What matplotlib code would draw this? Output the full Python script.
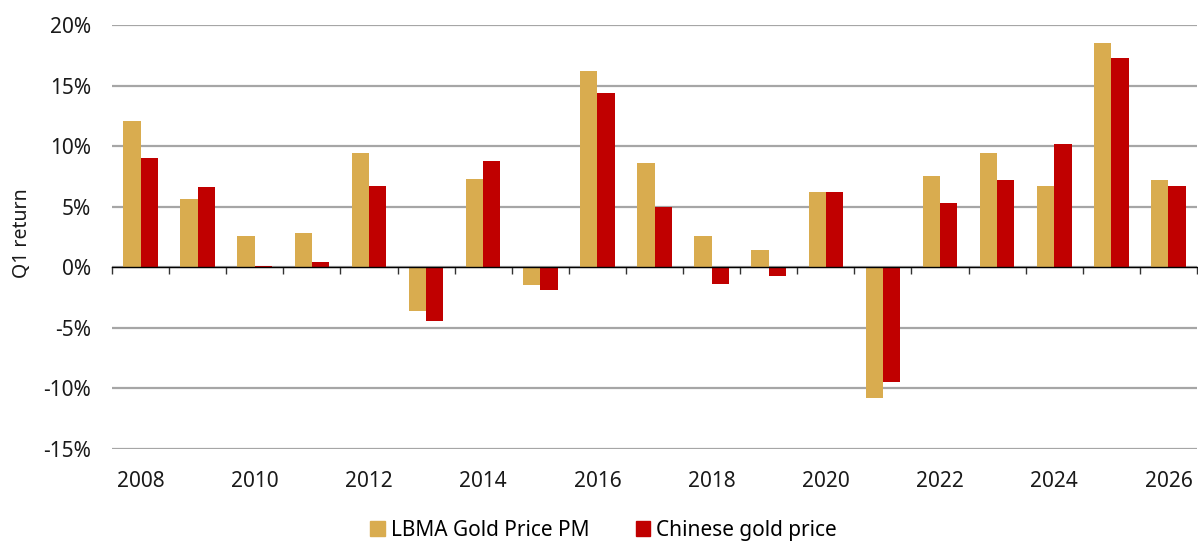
import numpy as np
import matplotlib
matplotlib.use("Agg")
import matplotlib.pyplot as plt
from matplotlib.patches import Patch

plt.rcParams['font.family'] = ['Noto Sans', 'DejaVu Sans']

# Q1 returns in percent
years = list(range(2008, 2027))
lbma = [12.1, 5.6, 2.6, 2.8, 9.4, -3.6, 7.3, -1.5, 16.2, 8.6, 2.6, 1.4, 6.2, -10.8, 7.5, 9.4, 6.7, 18.5, 7.2]
chinese = [9.0, 6.6, 0.1, 0.4, 6.7, -4.4, 8.8, -1.9, 14.4, 5.0, -1.4, -0.7, 6.2, -9.5, 5.3, 7.2, 10.2, 17.3, 6.7]
label_years = [str(y) if y % 2 == 0 else "" for y in years]

gold_col = "#D9AC4F"
red_col = "#C00000"
txt_col = "#1a1a1a"
fs = 15

fig = plt.figure(figsize=(11.98, 5.43), dpi=100)
ax = fig.add_axes([112 / 1198, 1 - 449 / 543, 1085 / 1198, 424 / 543])

x = np.arange(len(years))
w = 0.303
ax.bar(x - w / 2, lbma, width=w, color=gold_col, zorder=3)
ax.bar(x + w / 2, chinese, width=w, color=red_col, zorder=3)

ax.set_xlim(-0.5, len(years) - 0.5)
ax.set_ylim(-15, 20)
ax.set_yticks(np.arange(-15, 21, 5))
ax.set_yticklabels([f"{v}%" for v in range(-15, 21, 5)])
ax.grid(axis='y', color='#a6a6a6', linewidth=1.6, zorder=0)
ax.tick_params(axis='y', length=0, pad=15, labelsize=fs, labelcolor=txt_col)

for s in ['top', 'right', 'left']:
    ax.spines[s].set_visible(False)
# zero line with ticks between categories
ax.spines['bottom'].set_position(('data', 0))
ax.spines['bottom'].set_color('black')
ax.spines['bottom'].set_linewidth(1.0)
ax.spines['bottom'].set_zorder(4)
ax.set_xticks(np.arange(-0.5, len(years) - 0.4, 1))
ax.set_xticklabels([])
ax.tick_params(axis='x', direction='out', length=5, width=1, color='#333333')

# year labels at the bottom of the plot
sec = ax.secondary_xaxis(0.0)
sec.set_xticks(x)
sec.set_xticklabels(label_years)
sec.tick_params(length=0, pad=16, labelsize=fs, labelcolor=txt_col)
sec.spines['bottom'].set_visible(False)

ax.set_ylabel("Q1 return", fontsize=14, color=txt_col)
ax.yaxis.set_label_coords(-0.074, 0.51)

handles = [Patch(color=gold_col, label="LBMA Gold Price PM"),
           Patch(color=red_col, label="Chinese gold price")]
fig.legend(handles=handles, loc='lower center', bbox_to_anchor=(0.504, -0.03), ncol=2,
           frameon=False, fontsize=fs, handlelength=0.7, handleheight=0.7,
           handletextpad=0.3, columnspacing=2.2)

fig.savefig("out.png", dpi=100)
